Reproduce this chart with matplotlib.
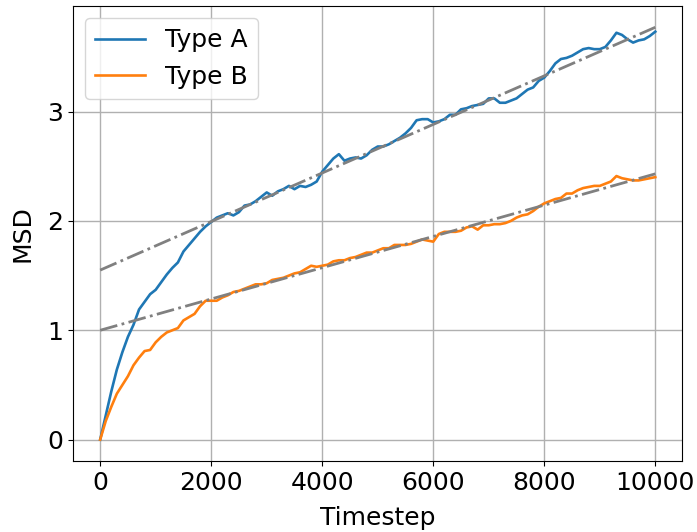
import numpy as np
import matplotlib
matplotlib.use("Agg")
import matplotlib.pyplot as plt

timesteps = list(range(0, 10001, 100))

msd_type_a = [
    0.00, 0.22, 0.44, 0.64, 0.80, 0.94, 1.05, 1.19, 1.26, 1.33,
    1.37, 1.44, 1.51, 1.57, 1.62, 1.72, 1.78, 1.84, 1.90, 1.95,
    1.99, 2.03, 2.05, 2.07, 2.05, 2.08, 2.14, 2.15, 2.18, 2.22,
    2.26, 2.23, 2.27, 2.29, 2.32, 2.29, 2.32, 2.31, 2.33, 2.36,
    2.45, 2.51, 2.57, 2.61, 2.55, 2.57, 2.58, 2.57, 2.60, 2.65,
    2.68, 2.68, 2.70, 2.73, 2.76, 2.80, 2.85, 2.92, 2.93, 2.93,
    2.90, 2.91, 2.93, 2.97, 2.97, 3.02, 3.03, 3.05, 3.06, 3.07,
    3.12, 3.12, 3.08, 3.08, 3.10, 3.12, 3.16, 3.20, 3.22, 3.28,
    3.31, 3.37, 3.44, 3.48, 3.49, 3.51, 3.54, 3.57, 3.58, 3.57,
    3.57, 3.59, 3.65, 3.72, 3.70, 3.66, 3.63, 3.65, 3.66, 3.69,
    3.73,
]

msd_type_b = [
    0.00, 0.17, 0.30, 0.42, 0.50, 0.58, 0.68, 0.75, 0.81, 0.82,
    0.89, 0.94, 0.98, 1.00, 1.02, 1.09, 1.12, 1.15, 1.22, 1.27,
    1.27, 1.27, 1.30, 1.32, 1.35, 1.36, 1.38, 1.40, 1.42, 1.42,
    1.43, 1.46, 1.47, 1.48, 1.50, 1.52, 1.53, 1.56, 1.59, 1.58,
    1.59, 1.60, 1.63, 1.64, 1.64, 1.66, 1.67, 1.69, 1.71, 1.71,
    1.73, 1.75, 1.75, 1.78, 1.78, 1.78, 1.79, 1.81, 1.83, 1.82,
    1.81, 1.88, 1.90, 1.90, 1.90, 1.91, 1.94, 1.95, 1.92, 1.96,
    1.96, 1.97, 1.97, 1.98, 2.00, 2.03, 2.05, 2.06, 2.09, 2.13,
    2.16, 2.18, 2.20, 2.21, 2.25, 2.25, 2.28, 2.30, 2.31, 2.32,
    2.32, 2.34, 2.36, 2.41, 2.39, 2.38, 2.37, 2.37, 2.38, 2.39,
    2.40,
]

fit_x = [0, 10000]
fit_a = [1.55, 3.77]
fit_b = [1.00, 2.43]

labels = ["Type A", "Type B"]

fig = plt.figure(figsize=(6.97, 5.32), dpi=100)
ax = fig.add_axes([0.1047, 0.1335, 0.8737, 0.8553])

ax.plot(timesteps, msd_type_a, color="#1f77b4", lw=1.9, label=labels[0])
ax.plot(timesteps, msd_type_b, color="#ff7f0e", lw=1.9, label=labels[1])
ax.plot(fit_x, fit_a, color="gray", ls="-.", lw=2)
ax.plot(fit_x, fit_b, color="gray", ls="-.", lw=2)

ax.set_xlim(-490, 10480)
ax.set_ylim(-0.195, 3.965)
ax.set_xticks([0, 2000, 4000, 6000, 8000, 10000])
ax.set_yticks([0, 1, 2, 3])
ax.grid(True, color="#b0b0b0", lw=1)
ax.tick_params(labelsize=18)
ax.set_xlabel("Timestep", fontsize=18, labelpad=8)
ax.set_ylabel("MSD", fontsize=18, labelpad=9)
ax.legend(loc="upper left", fontsize=18)

fig.savefig("out.png", dpi=100)
